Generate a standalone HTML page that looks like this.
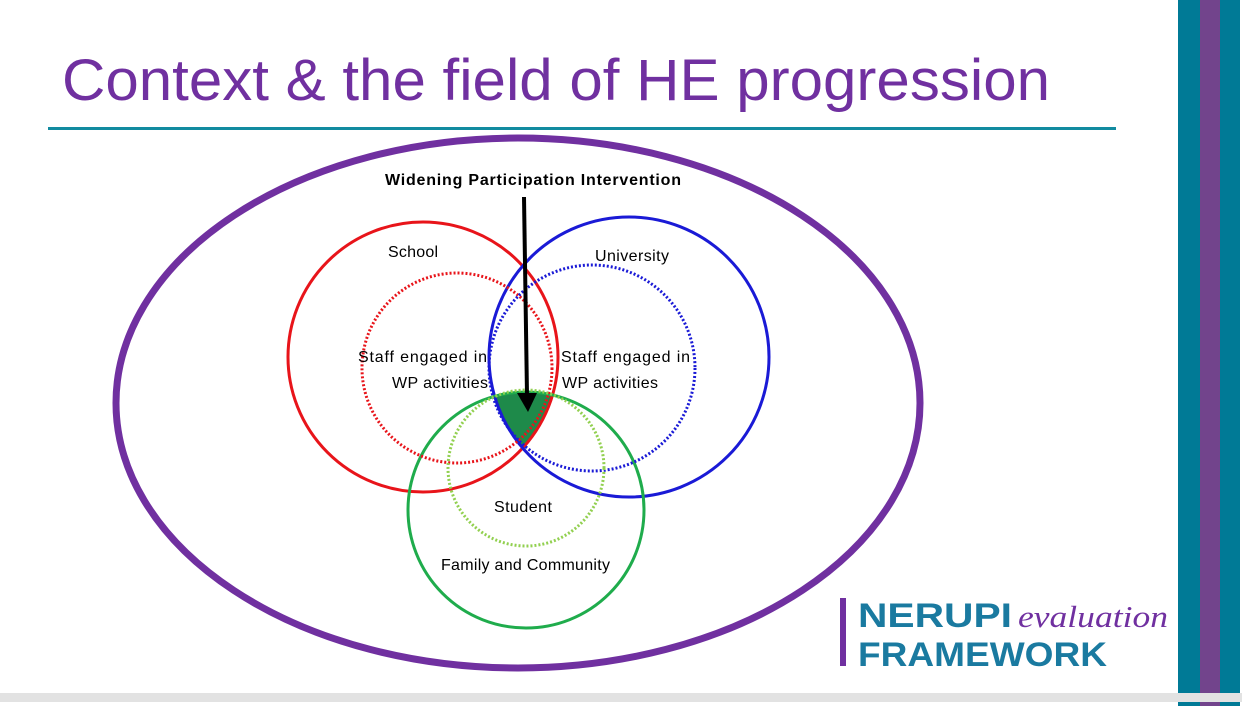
<html><body style="margin:0;width:1242px;height:706px;position:relative;background:#fff;overflow:hidden;font-family:'Liberation Sans',sans-serif">
<svg width="1242" height="706" style="position:absolute;left:0;top:0" font-family="Liberation Sans, sans-serif">
<text x="62" y="100" font-size="58" fill="#7030a0" textLength="988" lengthAdjust="spacingAndGlyphs">Context &amp; the field of HE progression</text>
</svg>
<div style="position:absolute;left:48px;top:127px;width:1068px;height:3px;background:#128ba0"></div>
<div style="position:absolute;left:1178px;top:0;width:22px;height:693px;background:#007a96"></div>
<div style="position:absolute;left:1200px;top:0;width:20px;height:693px;background:#72448c"></div>
<div style="position:absolute;left:1220px;top:0;width:20px;height:693px;background:#007a96"></div>
<div style="position:absolute;left:0;top:693px;width:1242px;height:9px;background:#e2e2e2"></div>
<div style="position:absolute;left:1178px;top:702px;width:22px;height:4px;background:#007a96"></div>
<div style="position:absolute;left:1200px;top:702px;width:20px;height:4px;background:#72448c"></div>
<div style="position:absolute;left:1220px;top:702px;width:20px;height:4px;background:#007a96"></div>
<svg width="1242" height="706" style="position:absolute;left:0;top:0" font-family="Liberation Sans, sans-serif">
<defs>
<clipPath id="cr"><circle cx="423" cy="357" r="135"/></clipPath>
<clipPath id="cb"><circle cx="629" cy="357" r="140"/></clipPath>
</defs>
<ellipse cx="518" cy="403" rx="402" ry="265" fill="none" stroke="#7030a0" stroke-width="7"/>
<g clip-path="url(#cr)"><g clip-path="url(#cb)"><circle cx="526" cy="510" r="118" fill="#1e8a4a"/></g></g>
<circle cx="423" cy="357" r="135" fill="none" stroke="#e8141a" stroke-width="3"/>
<circle cx="629" cy="357" r="140" fill="none" stroke="#1a1ad6" stroke-width="3"/>
<circle cx="526" cy="510" r="118" fill="none" stroke="#1fac4c" stroke-width="3"/>
<circle cx="457" cy="368" r="95" fill="none" stroke="#e8141a" stroke-width="3" stroke-dasharray="2 2"/>
<circle cx="592" cy="368" r="103" fill="none" stroke="#1a1ad6" stroke-width="3" stroke-dasharray="2 2"/>
<circle cx="526" cy="468" r="78" fill="none" stroke="#92d050" stroke-width="3" stroke-dasharray="2 2"/>
<line x1="524" y1="197" x2="527" y2="395" stroke="#000" stroke-width="4"/>
<polygon points="517,393 537,393 528,412" fill="#000"/>
<g font-size="16" fill="#000" lengthAdjust="spacingAndGlyphs">
<text x="385" y="185" font-weight="bold" textLength="296">Widening Participation Intervention</text>
<text x="388" y="257" textLength="50">School</text>
<text x="595" y="261" textLength="74">University</text>
<text x="358" y="362" textLength="129">Staff engaged in</text>
<text x="392" y="388" textLength="96">WP activities</text>
<text x="561" y="362" textLength="129">Staff engaged in</text>
<text x="562" y="388" textLength="96">WP activities</text>
<text x="494" y="512" textLength="58">Student</text>
<text x="441" y="570" textLength="169">Family and Community</text>
</g>
<rect x="840" y="598" width="6" height="68" fill="#7030a0"/>
<text x="858" y="627" font-size="34" font-weight="bold" fill="#1a7aa0" textLength="154" lengthAdjust="spacingAndGlyphs">NERUPI</text>
<text x="1018" y="627" font-size="31" font-style="italic" font-family="Liberation Serif, serif" fill="#7030a0" textLength="150" lengthAdjust="spacingAndGlyphs">evaluation</text>
<text x="858" y="666" font-size="34" font-weight="bold" fill="#1a7aa0" textLength="249" lengthAdjust="spacingAndGlyphs">FRAMEWORK</text>
</svg>
</body></html>
